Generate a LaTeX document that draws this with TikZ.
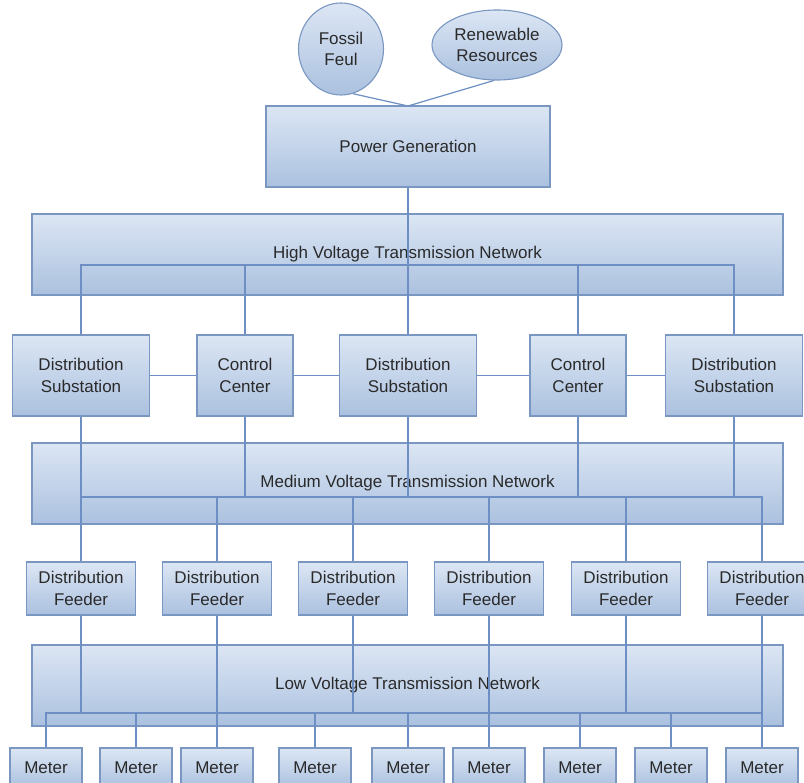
\documentclass[tikz,border=0pt]{standalone}
\usepackage{fontspec}
\setmainfont{Liberation Sans}
\usepackage{tikz}
\usetikzlibrary{shapes.geometric}
\usepackage{xcolor}
\definecolor{GridLine}{HTML}{6D8FC4}
\definecolor{GridEdge}{HTML}{7A97C2}
\definecolor{GridTop}{HTML}{DCE6F4}
\definecolor{GridBottom}{HTML}{ABC1DF}
\definecolor{GridText}{HTML}{2A2A2A}

\tikzset{
  unitbox/.style={draw=GridEdge,line width=1.1pt,top color=GridTop,bottom color=GridBottom,
    text=GridText,align=center,inner sep=0pt,font=\fontsize{17}{21.5}\selectfont},
  netbox/.style={unitbox,minimum width=751,minimum height=81},
  stationbox/.style={unitbox,minimum height=81},
  feedbox/.style={unitbox,minimum width=109,minimum height=53},
  meterbox/.style={unitbox,minimum width=72,minimum height=40},
  sourcecell/.style={unitbox,ellipse},
  wire/.style={draw=GridLine,line width=1.2pt},
}

\begin{document}
\begin{tikzpicture}[x=1pt,y=-1pt]
    \path[use as bounding box,fill=white] (0,0) rectangle (804,783);
    % sources and generation
    \node[sourcecell,minimum width=85,minimum height=92] (ff) at (341,49) {Fossil\\Feul};
    \node[sourcecell,minimum width=130,minimum height=70] (rr) at (497,45) {Renewable\\Resources};
    \node[unitbox,minimum width=284,minimum height=81] (pg) at (408,146.5) {Power Generation};
    \coordinate (join) at (408,106);
    % network layers
    \node[netbox] (hv) at (407.5,254.5) {High Voltage Transmission Network};
    \node[netbox] (mv) at (407.5,483.5) {Medium Voltage Transmission Network};
    \node[netbox] (lv) at (407.5,685.5) {Low Voltage Transmission Network};
    % substations and control centers
    \node[stationbox,minimum width=137] (ds1) at (81,375.5) {Distribution\\Substation};
    \node[stationbox,minimum width=96] (cc1) at (245,375.5) {Control\\Center};
    \node[stationbox,minimum width=137] (ds2) at (408,375.5) {Distribution\\Substation};
    \node[stationbox,minimum width=96] (cc2) at (578,375.5) {Control\\Center};
    \node[stationbox,minimum width=137] (ds3) at (734,375.5) {Distribution\\Substation};
    % feeders and meters
    \foreach \x [count=\i] in {81,217,353,489,626,762} {
      \node[feedbox] (f\i) at (\x,588.5) {Distribution\\Feeder};
    }
    \foreach \x [count=\i] in {46,136,217,315,408,489,580,671,762} {
      \node[meterbox] (m\i) at (\x,768) {Meter};
    }
    % bus ends
    \coordinate (hvL) at (81,265);
    \coordinate (hvR) at (734,265);
    \coordinate (mvL) at (81,497);
    \coordinate (mvR) at (762,497);
    \coordinate (lvL) at (46,713);
    \coordinate (lvR) at (762,713);
    % connections
    \draw[wire] (ff.-75) -- (join) -- (rr.-95);
    \draw[wire] (pg) -- (ds2);
    \draw[wire] (ds1.north) -- (hvL) -- (hvR) -- (ds3.north);
    \foreach \n in {cc1,cc2} {
      \draw[wire] (\n.north) -- (\n.north |- hvL);
    }
    \draw[wire] (ds1) -- (cc1) -- (ds2) -- (cc2) -- (ds3);
    \draw[wire] (ds1) -- (f1);
    \draw[wire] (mvL) -- (mvR) -- (f6.north);
    \foreach \n in {cc1,ds2,cc2,ds3} {
      \draw[wire] (\n.south) -- (\n.south |- mvL);
    }
    \foreach \n in {f2,f3,f4,f5} {
      \draw[wire] (\n.north) -- (\n.north |- mvL);
    }
    \draw[wire] (f2) -- (m3);
    \draw[wire] (f4) -- (m6);
    \draw[wire] (f6) -- (m9);
    \foreach \n in {f1,f3,f5} {
      \draw[wire] (\n.south) -- (\n.south |- lvL);
    }
    \draw[wire] (m1.north) -- (lvL) -- (lvR);
    \foreach \n in {m2,m4,m5,m7,m8} {
      \draw[wire] (\n.north) -- (\n.north |- lvL);
    }
\end{tikzpicture}
\end{document}
